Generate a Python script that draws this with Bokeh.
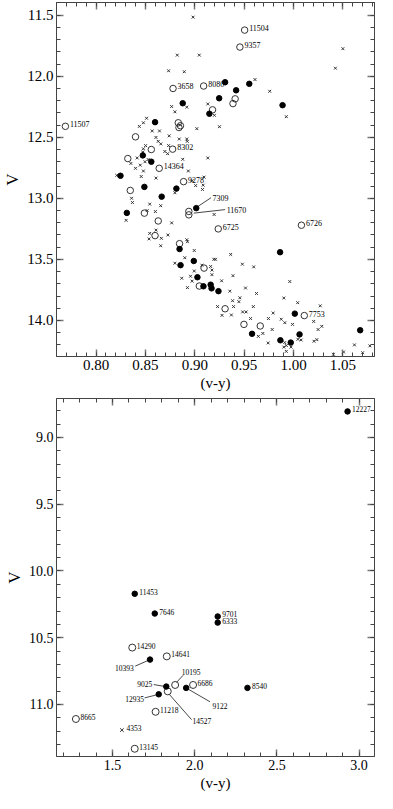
from bokeh.plotting import figure
from bokeh.models import Range1d, LinearAxis, FixedTicker, CustomJSTickFormatter, ColumnDataSource
from bokeh.layouts import column
from bokeh.core.properties import value
from bokeh.embed import file_html
from bokeh.resources import INLINE

FONT = "Liberation Serif"

# ---------------- top panel data: (v-y) vs V ----------------
top_filled_x = [0.8878, 0.8598, 0.8474, 0.856, 0.8248, 0.849, 0.8814, 0.8665, 0.9307, 0.9552,
                0.9419, 0.9247, 0.9148, 0.9889, 0.8312, 0.8846, 0.8856, 0.899, 0.9015, 0.9027,
                0.9088, 0.9161, 0.917, 0.924, 0.9864, 1.0013, 0.958, 0.9867, 0.9972, 1.0061, 1.0675]
top_filled_y = [12.221, 12.376, 12.648, 12.70, 12.815, 12.906, 12.92, 12.986, 12.049, 12.062,
                12.115, 12.18, 12.307, 12.237, 13.119, 13.415, 13.547, 13.513, 13.08, 13.646,
                13.72, 13.707, 13.737, 13.76, 13.441, 13.944, 14.109, 14.162, 14.181, 14.114, 14.08]

top_open_x = [0.9505, 0.9457, 0.878, 0.909, 0.769, 0.8776, 0.864, 0.8887, 0.894, 0.9238, 1.008, 1.0109,
              0.840, 0.856, 0.8322, 0.8347, 0.8833, 0.8855, 0.8840, 0.9409, 0.9387, 0.918, 0.849,
              0.863, 0.8598, 0.8846, 0.9094, 0.9046, 0.9307, 0.9498, 0.9663, 0.894]
top_open_y = [11.622, 11.761, 12.10, 12.08, 12.41, 12.597, 12.754, 12.863, 13.135, 13.25, 13.22, 13.96,
              12.496, 12.60, 12.674, 12.935, 12.381, 12.405, 12.42, 12.185, 12.224, 12.275, 13.121,
              13.185, 13.305, 13.371, 13.571, 13.718, 13.904, 14.032, 14.045, 13.107]

top_cross_x = [0.8983, 0.8823, 0.9046, 0.8735, 0.8894, 0.8766, 0.8799, 0.8919, 0.8512, 0.848,
               0.8439, 0.8643, 0.8569, 0.8741, 0.8843, 0.8919, 0.8924, 0.8607, 0.863, 0.8656,
               0.8502, 0.848, 0.8474, 0.8697, 0.8735, 0.8725, 0.8417, 0.8353, 0.8528, 0.8496,
               0.8878, 0.8448, 0.840, 0.848, 0.8458, 0.8608, 0.8935, 0.9009, 0.821, 0.8973,
               0.9132, 0.925, 0.9021, 0.9132, 0.9085, 0.9078, 0.8799, 0.8544, 0.8655, 0.836,
               0.8369, 0.8601, 0.8305, 0.8518, 0.8766, 0.9196, 0.8544, 0.8537, 0.8608, 0.8662,
               0.8655, 0.8728, 0.8919, 0.8926, 0.8899, 0.8799, 0.8868, 0.8926, 0.8957, 0.8973,
               0.8995, 0.8995, 0.9193, 0.9210, 0.9364, 0.9072, 0.9161, 0.9482, 0.9597, 0.9174,
               0.9174, 0.9387, 0.9272, 0.9355, 0.9625, 0.9962, 0.9457, 0.9383, 0.9447, 0.9902,
               0.9393, 0.9231, 0.9276, 0.9371, 0.9485, 0.952, 0.9565, 0.9794, 0.9746, 0.9912,
               0.9514, 1.0042, 1.0271, 0.9876, 0.999, 1.0204, 1.0249, 1.0286, 0.9784, 0.9689,
               0.9644, 0.9743, 0.9911, 0.9927, 0.9902, 0.9975, 0.9927, 1.0045, 1.0077, 1.0207,
               1.0236, 1.0617, 1.0774, 1.07, 1.0507, 1.0404, 1.05, 1.0424, 0.961, 0.9759,
               0.9199, 0.9927, 0.9094, 0.9593]
top_cross_y = [11.516, 11.827, 11.827, 11.955, 11.963, 12.248, 12.291, 12.253, 12.344, 12.381,
               12.411, 12.448, 12.448, 12.488, 12.514, 12.514, 12.533, 12.501, 12.533, 12.554,
               12.568, 12.594, 12.621, 12.616, 12.568, 12.634, 12.669, 12.714, 12.682, 12.70,
               12.680, 12.728, 12.754, 12.776, 12.821, 12.834, 12.776, 12.895, 12.812, 12.855,
               12.227, 12.413, 12.429, 12.669, 12.892, 12.927, 12.954, 13.047, 13.06, 12.999,
               13.034, 13.108, 13.18, 13.10, 13.201, 13.132, 13.287, 13.332, 13.26, 13.327,
               13.388, 13.30, 13.339, 13.355, 13.486, 13.531, 13.654, 13.731, 13.638, 13.678,
               13.427, 13.595, 13.499, 13.499, 13.459, 13.547, 13.558, 13.539, 13.561, 13.587,
               13.625, 13.633, 13.675, 13.76, 13.779, 13.681, 13.814, 13.838, 13.846, 13.816,
               13.886, 13.886, 13.958, 13.955, 13.93, 13.93, 13.984, 13.939, 13.984, 14.018,
               13.734, 13.854, 13.88, 13.99, 14.032, 14.008, 14.074, 14.048, 14.074, 14.106,
               14.13, 14.184, 14.181, 14.205, 14.218, 14.218, 14.253, 14.154, 14.16, 14.17,
               14.157, 14.20, 14.208, 14.264, 14.258, 14.277, 11.774, 11.934, 12.027, 12.123,
               12.32, 12.331, 12.826, 13.886]

# labels placed beside their star
top_lab_names = ["11504", "9357", "3658", "8080", "11507", "8302", "14364", "9278", "6725", "6726", "7753"]
top_lab_x = [0.9505, 0.9457, 0.878, 0.909, 0.769, 0.8776, 0.864, 0.8887, 0.9238, 1.008, 1.0109]
top_lab_y = [11.622, 11.761, 12.10, 12.08, 12.41, 12.597, 12.754, 12.863, 13.25, 13.22, 13.96]

# labels with leader lines
top_lead_names = ["7309", "11670"]
top_lead_x0 = [0.9027, 0.8989]
top_lead_y0 = [13.069, 13.121]
top_lead_x1 = [0.9164, 0.9307]
top_lead_y1 = [12.995, 13.092]
top_lead_tx = [0.918, 0.9323]
top_lead_ty = [12.999, 13.092]

top_x_ticks = [0.80, 0.85, 0.90, 0.95, 1.00, 1.05]
top_x_labels = ["0.80", "0.85", "0.90", "0.95", "1.00", "1.05"]
top_y_ticks = [11.5, 12.0, 12.5, 13.0, 13.5, 14.0]
top_y_labels = ["11.5", "12.0", "12.5", "13.0", "13.5", "14.0"]
top_x_minor = [round(0.76 + 0.01 * i, 2) for i in range(33)]
top_y_minor = [round(11.4 + 0.1 * i, 1) for i in range(30)]

# ---------------- bottom panel data ----------------
bot_filled_names = ["12227", "11453", "7646", "10393", "9025", "12935", "9122", "9701", "6333", "8540"]
bot_filled_x = [2.930, 1.635, 1.757, 1.728, 1.827, 1.781, 1.948, 2.140, 2.140, 2.321]
bot_filled_y = [8.805, 10.171, 10.319, 10.664, 10.866, 10.924, 10.876, 10.341, 10.387, 10.876]

bot_open_names = ["14290", "14641", "10195", "14527", "6686", "11218", "8665", "13145"]
bot_open_x = [1.62, 1.83, 1.881, 1.836, 1.99, 1.762, 1.277, 1.635]
bot_open_y = [10.574, 10.64, 10.854, 10.902, 10.854, 11.055, 11.109, 11.332]

bot_cross_names = ["4353"]
bot_cross_x = [1.557]
bot_cross_y = [11.192]

bot_lab_names = ["12227", "11453", "7646", "9701", "6333", "8540", "14290", "14641", "6686", "11218", "8665", "13145", "4353"]
bot_lab_x = [2.930, 1.635, 1.757, 2.140, 2.140, 2.321, 1.62, 1.83, 1.99, 1.762, 1.277, 1.635, 1.557]
bot_lab_y = [8.805, 10.171, 10.319, 10.341, 10.387, 10.876, 10.574, 10.64, 10.854, 11.055, 11.109, 11.332, 11.192]

# leader-line labels: right aligned (left of star) and left aligned (right of star)
bot_leadL_names = ["10393", "9025", "12935"]
bot_leadL_x0 = [1.719, 1.811, 1.766]
bot_leadL_y0 = [10.669, 10.864, 10.929]
bot_leadL_x1 = [1.638, 1.751, 1.695]
bot_leadL_y1 = [10.713, 10.851, 10.951]
bot_leadL_tx = [1.629, 1.742, 1.691]
bot_leadL_ty = [10.725, 10.849, 10.956]

bot_leadR_names = ["10195", "14527", "9122"]
bot_leadR_x0 = [1.889, 1.845, 1.964]
bot_leadR_y0 = [10.835, 10.924, 10.888]
bot_leadR_x1 = [1.930, 1.981, 2.093]
bot_leadR_y1 = [10.781, 11.114, 10.980]
bot_leadR_tx = [1.921, 1.987, 2.109]
bot_leadR_ty = [10.760, 11.126, 11.009]

bot_x_ticks = [1.5, 2.0, 2.5, 3.0]
bot_x_labels = ["1.5", "2.0", "2.5", "3.0"]
bot_y_ticks = [9.0, 9.5, 10.0, 10.5, 11.0]
bot_y_labels = ["9.0", "9.5", "10.0", "10.5", "11.0"]
bot_x_minor = [round(1.1 + 0.1 * i, 1) for i in range(21)]
bot_y_minor = [round(8.7 + 0.1 * i, 1) for i in range(28)]


def style_axis(ax, ticks, labels, minor, font_size, show_labels=True):
    ax.ticker = FixedTicker(ticks=ticks, minor_ticks=minor)
    ax.major_tick_in = 7
    ax.major_tick_out = 0
    ax.minor_tick_in = 4
    ax.minor_tick_out = 0
    ax.axis_line_color = "#444444"
    ax.major_tick_line_color = "#777777"
    ax.major_tick_line_width = 1.5
    ax.minor_tick_line_color = "#444444"
    ax.minor_tick_line_width = 1
    if show_labels:
        ax.major_label_overrides = dict(zip(ticks, labels))
        ax.major_label_text_font = FONT
        ax.major_label_text_font_size = font_size
        ax.major_label_text_color = "black"
        ax.major_label_standoff = 3
    else:
        ax.formatter = CustomJSTickFormatter(code="return ''")
        ax.major_label_standoff = 0


def make_panel(xr, yr, height, xt, xl, xm, yt, yl, ym, fsize, top_border):
    p = figure(width=377, height=height, x_range=xr, y_range=yr,
               output_backend="svg", toolbar_location=None,
               min_border_left=40, min_border_right=3,
               min_border_top=top_border, min_border_bottom=36)
    p.grid.visible = False
    p.outline_line_color = "#666666"
    p.background_fill_color = "white"
    style_axis(p.xaxis[0], xt, xl, xm, fsize)
    style_axis(p.yaxis[0], yt, yl, ym, fsize)
    p.xaxis.axis_label = "(v-y)"
    p.yaxis.axis_label = "V"
    for ax in (p.xaxis[0], p.yaxis[0]):
        ax.axis_label_text_font = FONT
        ax.axis_label_text_font_style = "normal"
        ax.axis_label_text_color = "black"
    p.xaxis.axis_label_text_font_size = "15px"
    p.yaxis.axis_label_text_font_size = "17px"
    p.xaxis.axis_label_standoff = 2
    p.yaxis.axis_label_standoff = 2
    ax_r = LinearAxis()
    style_axis(ax_r, yt, yl, ym, fsize, show_labels=False)
    p.add_layout(ax_r, "right")
    ax_t = LinearAxis()
    style_axis(ax_t, xt, xl, xm, fsize, show_labels=False)
    p.add_layout(ax_t, "above")
    return p


# ---- top figure ----
p1 = make_panel(Range1d(0.760, 1.082), Range1d(14.295, 11.396), 393,
                top_x_ticks, top_x_labels, top_x_minor,
                top_y_ticks, top_y_labels, top_y_minor, "15px", 2)

p1.segment(x0=top_lead_x0, y0=top_lead_y0, x1=top_lead_x1, y1=top_lead_y1,
           line_color="#333333", line_width=0.9)
p1.scatter(top_cross_x, top_cross_y, marker="x", size=4, line_color="#333333", line_width=1)
p1.scatter(top_open_x, top_open_y, marker="circle", size=6.5, fill_color=None,
           line_color="#333333", line_width=1)
p1.scatter(top_filled_x, top_filled_y, marker="circle", size=5.5, fill_color="black", line_color="black")

src_tl = ColumnDataSource(dict(x=top_lab_x, y=top_lab_y, t=top_lab_names))
p1.text(x="x", y="y", text="t", source=src_tl, x_offset=4.5, y_offset=-2,
        text_font=value(FONT), text_font_size=value("8px"), text_baseline="middle",
        text_align="left", text_color="black")
src_tld = ColumnDataSource(dict(x=top_lead_tx, y=top_lead_ty, t=top_lead_names))
p1.text(x="x", y="y", text="t", source=src_tld,
        text_font=value(FONT), text_font_size=value("8px"), text_baseline="middle",
        text_align="left", text_color="black")

# ---- bottom figure ----
p2 = make_panel(Range1d(1.159, 3.094), Range1d(11.39, 8.708), 400,
                bot_x_ticks, bot_x_labels, bot_x_minor,
                bot_y_ticks, bot_y_labels, bot_y_minor, "14px", 5)

p2.segment(x0=bot_leadL_x0, y0=bot_leadL_y0, x1=bot_leadL_x1, y1=bot_leadL_y1,
           line_color="#333333", line_width=0.9)
p2.segment(x0=bot_leadR_x0, y0=bot_leadR_y0, x1=bot_leadR_x1, y1=bot_leadR_y1,
           line_color="#333333", line_width=0.9)
p2.scatter(bot_cross_x, bot_cross_y, marker="x", size=5, line_color="#333333", line_width=1)
p2.scatter(bot_open_x, bot_open_y, marker="circle", size=7, fill_color=None,
           line_color="#333333", line_width=1)
p2.scatter(bot_filled_x, bot_filled_y, marker="circle", size=5.5, fill_color="black", line_color="black")

src_bl = ColumnDataSource(dict(x=bot_lab_x, y=bot_lab_y, t=bot_lab_names))
p2.text(x="x", y="y", text="t", source=src_bl, x_offset=4.5, y_offset=-2,
        text_font=value(FONT), text_font_size=value("7.5px"), text_baseline="middle",
        text_align="left", text_color="black")
src_bL = ColumnDataSource(dict(x=bot_leadL_tx, y=bot_leadL_ty, t=bot_leadL_names))
p2.text(x="x", y="y", text="t", source=src_bL,
        text_font=value(FONT), text_font_size=value("7.5px"), text_baseline="middle",
        text_align="right", text_color="black")
src_bR = ColumnDataSource(dict(x=bot_leadR_tx, y=bot_leadR_ty, t=bot_leadR_names))
p2.text(x="x", y="y", text="t", source=src_bR,
        text_font=value(FONT), text_font_size=value("7.5px"), text_baseline="middle",
        text_align="left", text_color="black")

layout = column(p1, p2, spacing=0)
open("out.html", "w").write(file_html(layout, INLINE))
